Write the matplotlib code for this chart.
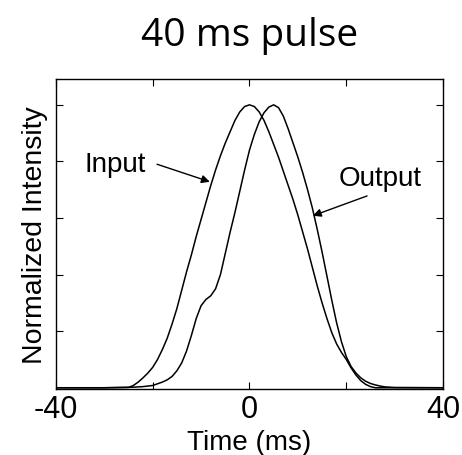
import matplotlib
matplotlib.use("Agg")
import matplotlib.pyplot as plt

# Time axis (ms) and normalized intensities
t_input = [-40, -30, -25, -24, -23, -22, -21, -20, -19, -18, -17, -16, -15, -14, -13,
           -12, -11, -10, -9, -8, -7, -6, -5, -4, -3, -2, -1, 0,
           1, 2, 3, 4, 5, 6, 7, 8, 9, 10, 11, 12, 13, 14, 15, 16, 17, 18, 19,
           20, 21, 22, 23, 24, 25, 26, 30, 40]
input_pulse = [0.0, 0.0, 0.001, 0.008, 0.02, 0.035, 0.052, 0.072, 0.10, 0.135, 0.175,
               0.225, 0.28, 0.345, 0.41, 0.47, 0.535, 0.595, 0.655, 0.715, 0.77, 0.82,
               0.865, 0.905, 0.945, 0.975, 0.994, 1.0,
               0.994, 0.975, 0.945, 0.905, 0.86, 0.815, 0.765, 0.715, 0.665, 0.61,
               0.55, 0.49, 0.425, 0.36, 0.30, 0.245, 0.195, 0.155, 0.125,
               0.10, 0.07, 0.045, 0.025, 0.012, 0.004, 0.0, 0.0, 0.0]

t_output = [-40, -30, -24, -22, -20, -18, -17, -16, -15, -14, -13, -12, -11, -10, -9,
            -8, -7, -6, -5, -4, -3, -2, -1, 0, 1, 2, 3, 4, 5,
            6, 7, 8, 9, 10, 11, 12, 13, 14, 15, 16, 17, 18, 19, 20,
            21, 22, 23, 24, 25, 26, 27, 28, 30, 40]
output_pulse = [0.0, 0.0, 0.002, 0.004, 0.008, 0.02, 0.028, 0.04, 0.06, 0.088, 0.13,
                0.185, 0.245, 0.29, 0.312, 0.325, 0.35, 0.40, 0.475, 0.55, 0.62, 0.695,
                0.77, 0.84, 0.895, 0.94, 0.972, 0.992, 1.0,
                0.99, 0.96, 0.915, 0.865, 0.815, 0.76, 0.7, 0.635, 0.56, 0.48, 0.395,
                0.31, 0.23, 0.163, 0.11,
                0.075, 0.052, 0.035, 0.023, 0.015, 0.01, 0.006, 0.003, 0.001, 0.0]

xtick_vals = [-40, -20, 0, 20, 40]
xtick_labels = ['-40', '', '0', '', '40']
ytick_vals = [0.2, 0.4, 0.6, 0.8, 1.0]

plt.rcParams['font.family'] = ['Liberation Sans', 'DejaVu Sans']

fig = plt.figure(figsize=(4.62, 4.56), dpi=100)
ax = fig.add_axes([0.121, 0.145, 0.838, 0.680])

ax.plot(t_input, input_pulse, color='black', lw=1.1)
ax.plot(t_output, output_pulse, color='black', lw=1.1)

ax.set_xlim(-40, 40)
ax.set_ylim(-0.004, 1.092)
ax.set_xticks(xtick_vals)
ax.set_xticklabels(xtick_labels, fontsize=22)
ax.set_yticks(ytick_vals)
ax.set_yticklabels([])
ax.tick_params(direction='in', length=5, width=0.8, top=True, right=True, pad=4)
for s in ax.spines.values():
    s.set_linewidth(1.0)

ax.set_xlabel('Time (ms)', fontsize=20, labelpad=3)
ax.set_ylabel('Normalized Intensity', fontsize=20.5, labelpad=2)

# annotations
ax.text(-27.8, 0.79, 'Input', fontsize=20, ha='center', va='center')
ax.annotate('', xy=(-8.2, 0.728), xytext=(-19.1, 0.79),
            arrowprops=dict(arrowstyle='-|>', color='black', lw=1.0, mutation_scale=12,
                            shrinkA=0, shrinkB=0))
ax.text(27.0, 0.742, 'Output', fontsize=20, ha='center', va='center')
ax.annotate('', xy=(13.1, 0.608), xytext=(24.3, 0.678),
            arrowprops=dict(arrowstyle='-|>', color='black', lw=1.0, mutation_scale=12,
                            shrinkA=0, shrinkB=0))

fig.text(0.54, 0.922, '40 ms pulse', fontsize=28, ha='center', va='center',
         family='Open Sans')

fig.savefig('out.png', dpi=100)
